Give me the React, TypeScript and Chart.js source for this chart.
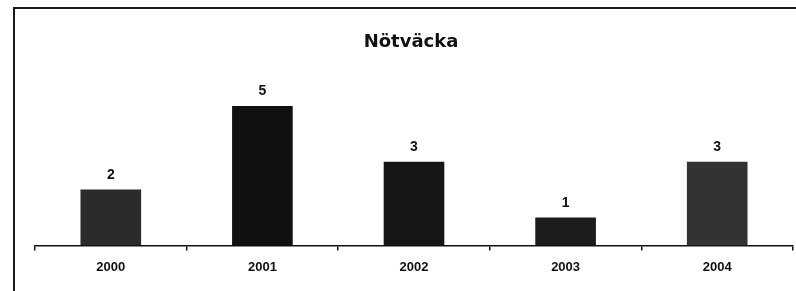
import React, { useEffect, useRef } from "react";
import { Chart, registerables } from "chart.js";

Chart.register(...registerables);

const title = "Nötväcka";
const years = ["2000", "2001", "2002", "2003", "2004"];
const counts = [2, 5, 3, 1, 3];
const barColors = ["#2b2b2b", "#111111", "#161616", "#1c1c1c", "#333333"];

const framePlugin = {
  id: "frame",
  afterDraw(chart: any) {
    const ctx = chart.ctx;
    ctx.save();
    ctx.strokeStyle = "#1a1a1a";
    ctx.lineWidth = 2;
    ctx.beginPath();
    ctx.moveTo(14, 291);
    ctx.lineTo(14, 8);
    ctx.lineTo(796, 8);
    ctx.stroke();
    // title
    ctx.fillStyle = "#111";
    ctx.font = "bold 18px 'DejaVu Sans', Arial, sans-serif";
    ctx.textAlign = "center";
    ctx.textBaseline = "middle";
    ctx.fillText(title, 411, 42);
    // value labels
    const meta = chart.getDatasetMeta(0);
    ctx.font = "bold 14px 'Liberation Sans', Arial, sans-serif";
    ctx.textBaseline = "alphabetic";
    meta.data.forEach((bar: any, i: number) => {
      ctx.fillText(String(counts[i]), bar.x, bar.y - 11);
    });
    ctx.restore();
  },
};

export default function App() {
  const ref = useRef<HTMLCanvasElement>(null);
  useEffect(() => {
    document.body.style.margin = "0";
    const chart = new Chart(ref.current!, {
      type: "bar",
      data: {
        labels: years,
        datasets: [
          {
            data: counts,
            backgroundColor: barColors,
            barPercentage: 0.4,
            categoryPercentage: 1.0,
          },
        ],
      },
      options: {
        animation: false,
        responsive: false,
        maintainAspectRatio: false,
        layout: { padding: { left: 35, right: 3, top: 78, bottom: 7 } },
        plugins: { legend: { display: false }, tooltip: { enabled: false } },
        scales: {
          x: {
            grid: {
              offset: true,
              drawOnChartArea: false,
              drawTicks: true,
              tickLength: 5,
              color: "#111",
              lineWidth: 1.5,
            },
            border: { display: true, color: "#111", width: 1.5 },
            ticks: {
              color: "#111",
              padding: 9,
              font: { family: "'Liberation Sans', Arial, sans-serif", size: 13, weight: "bold" },
            },
          },
          y: { display: false, min: 0, max: 6 },
        },
      },
      plugins: [framePlugin],
    });
    return () => chart.destroy();
  }, []);
  return (
    <div style={{ width: 796, height: 291 }}>
      <canvas ref={ref} width={796} height={291} style={{ display: "block" }} />
    </div>
  );
}
